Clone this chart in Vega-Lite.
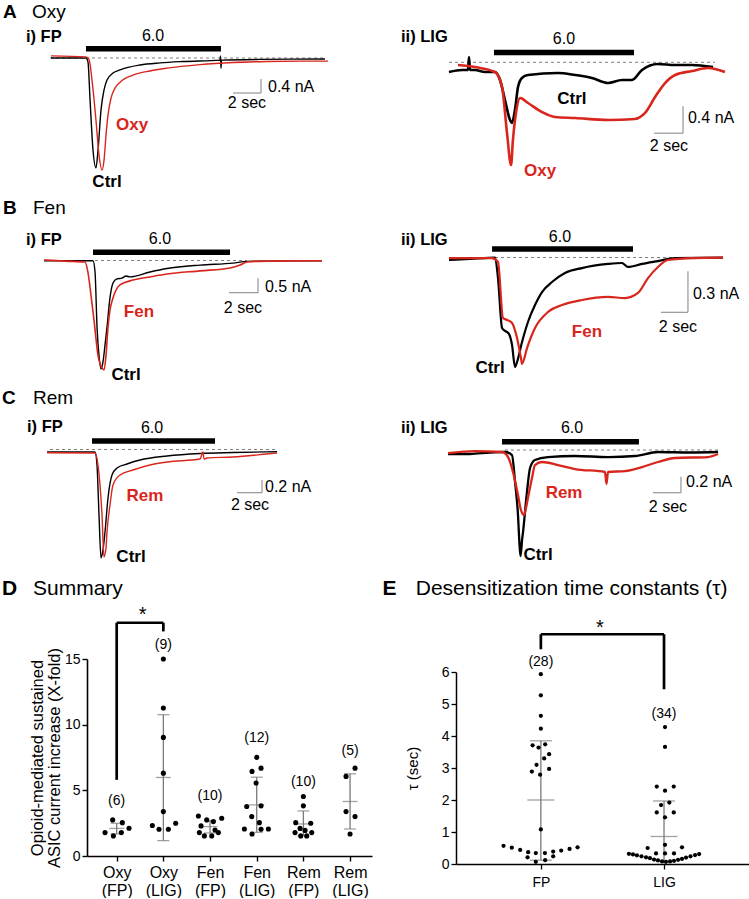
{
"$schema":"https://vega.github.io/schema/vega-lite/v6.json",
"padding":0,
"background":"white",
"columns":1,
"spacing":0,
"bounds":"full",
"config":{"view":{"stroke":null},"font":"Liberation Sans"},
"datasets":{
"Ai_an":[
{"kind":"letter","label":"A","t":-3.43,"I":1.314},
{"kind":"head","label":"Oxy","t":-1.36,"I":1.314},
{"kind":"sub","label":"i) FP","t":-1.79,"I":0.6},
{"kind":"stim","t":2.5,"t2":12.14,"I":0.266},
{"kind":"dose","label":"6.0","t":7.29,"I":0.629},
{"kind":"base","t":-0.07,"t2":19.57,"I":0},
{"kind":"sbar","t":13,"t2":15,"I":-1,"I2":-1},
{"kind":"sbar","t":15,"t2":15,"I":-1,"I2":-0.6},
{"kind":"sval","label":"0.4 nA","t":15.5,"I":-0.83},
{"kind":"stime","label":"2 sec","t":14,"I":-1.29},
{"kind":"tag","cond":"Drug","label":"Oxy","t":5.79,"I":-1.91},
{"kind":"tag","cond":"Ctrl","label":"Ctrl","t":4.0,"I":-3.54}],
"Ai_tr":[
{"cond":"Ctrl","t":0,"I":0},{"cond":"Ctrl","t":2.5,"I":0},{"cond":"Ctrl","t":2.64,"I":-0.11},{"cond":"Ctrl","t":2.79,"I":-1.2},{"cond":"Ctrl","t":3.0,"I":-2.63},{"cond":"Ctrl","t":3.21,"I":-3.14},{"cond":"Ctrl","t":3.36,"I":-2.63},{"cond":"Ctrl","t":3.57,"I":-1.49},{"cond":"Ctrl","t":3.79,"I":-0.91},{"cond":"Ctrl","t":4.0,"I":-0.63},{"cond":"Ctrl","t":4.43,"I":-0.43},{"cond":"Ctrl","t":4.93,"I":-0.34},{"cond":"Ctrl","t":6.36,"I":-0.2},{"cond":"Ctrl","t":7.79,"I":-0.14},{"cond":"Ctrl","t":9.43,"I":-0.1},{"cond":"Ctrl","t":12.07,"I":-0.06},{"cond":"Ctrl","t":12.11,"I":0.06},{"cond":"Ctrl","t":12.14,"I":-0.29},{"cond":"Ctrl","t":12.18,"I":-0.06},{"cond":"Ctrl","t":14.93,"I":-0.04},{"cond":"Ctrl","t":19.57,"I":-0.03},
{"cond":"Drug","t":0,"I":0.06},{"cond":"Drug","t":2.5,"I":0.03},{"cond":"Drug","t":2.71,"I":-0.03},{"cond":"Drug","t":2.93,"I":-0.63},{"cond":"Drug","t":3.21,"I":-1.77},{"cond":"Drug","t":3.43,"I":-2.77},{"cond":"Drug","t":3.64,"I":-3.2},{"cond":"Drug","t":3.79,"I":-2.91},{"cond":"Drug","t":3.93,"I":-2.2},{"cond":"Drug","t":4.07,"I":-1.63},{"cond":"Drug","t":4.29,"I":-1.14},{"cond":"Drug","t":4.57,"I":-0.86},{"cond":"Drug","t":4.93,"I":-0.69},{"cond":"Drug","t":5.86,"I":-0.49},{"cond":"Drug","t":7.07,"I":-0.37},{"cond":"Drug","t":8.29,"I":-0.29},{"cond":"Drug","t":10.64,"I":-0.19},{"cond":"Drug","t":13.0,"I":-0.13},{"cond":"Drug","t":15.43,"I":-0.1},{"cond":"Drug","t":17.79,"I":-0.09},{"cond":"Drug","t":19.79,"I":-0.09}],
"Aii_an":[
{"kind":"sub","label":"ii) LIG","t":-3.31,"I":0.375},
{"kind":"stim","t":3.1,"t2":12.76,"I":0.145},
{"kind":"dose","label":"6.0","t":7.93,"I":0.345},
{"kind":"base","t":0,"t2":18.34,"I":0},
{"kind":"sbar","t":14.14,"t2":16.14,"I":-1.05,"I2":-1.05},
{"kind":"sbar","t":16.14,"t2":16.14,"I":-1.05,"I2":-0.65},
{"kind":"sval","label":"0.4 nA","t":16.48,"I":-0.825},
{"kind":"stime","label":"2 sec","t":15.17,"I":-1.24},
{"kind":"tag","cond":"Ctrl","label":"Ctrl","t":8.48,"I":-0.544},
{"kind":"tag","cond":"Drug","label":"Oxy","t":6.28,"I":-1.61}],
"Aii_tr":[
{"cond":"Ctrl","t":0,"I":-0.144},{"cond":"Ctrl","t":0.9,"I":-0.114},{"cond":"Ctrl","t":1.31,"I":-0.114},{"cond":"Ctrl","t":1.38,"I":0.078},{"cond":"Ctrl","t":1.45,"I":-0.114},{"cond":"Ctrl","t":1.79,"I":-0.114},{"cond":"Ctrl","t":2.48,"I":-0.144},{"cond":"Ctrl","t":3.17,"I":-0.144},{"cond":"Ctrl","t":3.52,"I":-0.262},{"cond":"Ctrl","t":3.86,"I":-0.559},{"cond":"Ctrl","t":4.21,"I":-0.856},{"cond":"Ctrl","t":4.34,"I":-0.9},{"cond":"Ctrl","t":4.55,"I":-0.707},{"cond":"Ctrl","t":4.76,"I":-0.366},{"cond":"Ctrl","t":5.03,"I":-0.233},{"cond":"Ctrl","t":5.45,"I":-0.188},{"cond":"Ctrl","t":7.52,"I":-0.159},{"cond":"Ctrl","t":8.69,"I":-0.188},{"cond":"Ctrl","t":9.86,"I":-0.233},{"cond":"Ctrl","t":10.97,"I":-0.307},{"cond":"Ctrl","t":11.93,"I":-0.262},{"cond":"Ctrl","t":12.62,"I":-0.262},{"cond":"Ctrl","t":13.31,"I":-0.114},{"cond":"Ctrl","t":14.41,"I":-0.025},{"cond":"Ctrl","t":15.59,"I":-0.04},{"cond":"Ctrl","t":16.76,"I":-0.04},{"cond":"Ctrl","t":18.21,"I":-0.07},
{"cond":"Drug","t":0.62,"I":-0.04},{"cond":"Drug","t":1.79,"I":-0.07},{"cond":"Drug","t":3.17,"I":-0.144},{"cond":"Drug","t":3.66,"I":-0.366},{"cond":"Drug","t":4.0,"I":-1.047},{"cond":"Drug","t":4.28,"I":-1.521},{"cond":"Drug","t":4.41,"I":-1.151},{"cond":"Drug","t":4.62,"I":-0.753},{"cond":"Drug","t":4.9,"I":-0.529},{"cond":"Drug","t":5.45,"I":-0.603},{"cond":"Drug","t":6.41,"I":-0.736},{"cond":"Drug","t":7.31,"I":-0.81},{"cond":"Drug","t":8.69,"I":-0.825},{"cond":"Drug","t":10.97,"I":-0.855},{"cond":"Drug","t":12.83,"I":-0.84},{"cond":"Drug","t":13.52,"I":-0.751},{"cond":"Drug","t":14.21,"I":-0.514},{"cond":"Drug","t":14.9,"I":-0.307},{"cond":"Drug","t":15.59,"I":-0.188},{"cond":"Drug","t":16.76,"I":-0.129},{"cond":"Drug","t":17.86,"I":-0.084},{"cond":"Drug","t":19.03,"I":-0.144}],
"Bi_an":[
{"kind":"letter","label":"B","t":-2.83,"I":1.823},
{"kind":"head","label":"Fen","t":-0.76,"I":1.823},
{"kind":"sub","label":"i) FP","t":-1.24,"I":0.712},
{"kind":"stim","t":3.38,"t2":12.83,"I":0.285},
{"kind":"dose","label":"6.0","t":8.0,"I":0.747},
{"kind":"base","t":3.52,"t2":14.0,"I":0},
{"kind":"sbar","t":12.76,"t2":14.76,"I":-1.118,"I2":-1.118},
{"kind":"sbar","t":14.76,"t2":14.76,"I":-1.118,"I2":-0.618},
{"kind":"sval","label":"0.5 nA","t":15.24,"I":-0.91},
{"kind":"stime","label":"2 sec","t":13.72,"I":-1.65},
{"kind":"tag","cond":"Drug","label":"Fen","t":6.55,"I":-1.78},
{"kind":"tag","cond":"Ctrl","label":"Ctrl","t":5.66,"I":-3.98}],
"Bi_tr":[
{"cond":"Ctrl","t":0,"I":-0.01},{"cond":"Ctrl","t":3.38,"I":-0.01},{"cond":"Ctrl","t":3.52,"I":-0.4},{"cond":"Ctrl","t":3.66,"I":-2.34},{"cond":"Ctrl","t":3.79,"I":-3.28},{"cond":"Ctrl","t":3.93,"I":-3.77},{"cond":"Ctrl","t":4.07,"I":-3.52},{"cond":"Ctrl","t":4.21,"I":-2.93},{"cond":"Ctrl","t":4.34,"I":-2.34},{"cond":"Ctrl","t":4.55,"I":-1.3},{"cond":"Ctrl","t":4.76,"I":-0.78},{"cond":"Ctrl","t":5.03,"I":-0.64},{"cond":"Ctrl","t":5.38,"I":-0.61},{"cond":"Ctrl","t":5.66,"I":-0.54},{"cond":"Ctrl","t":5.93,"I":-0.57},{"cond":"Ctrl","t":7.31,"I":-0.4},{"cond":"Ctrl","t":8.48,"I":-0.28},{"cond":"Ctrl","t":10.76,"I":-0.16},{"cond":"Ctrl","t":13.03,"I":-0.09},{"cond":"Ctrl","t":14.0,"I":-0.03},{"cond":"Ctrl","t":19.17,"I":-0.01},
{"cond":"Drug","t":0,"I":0.02},{"cond":"Drug","t":1.45,"I":-0.02},{"cond":"Drug","t":2.83,"I":-0.05},{"cond":"Drug","t":3.03,"I":-0.4},{"cond":"Drug","t":3.24,"I":-1.2},{"cond":"Drug","t":3.45,"I":-2.07},{"cond":"Drug","t":3.72,"I":-3.28},{"cond":"Drug","t":4.0,"I":-3.73},{"cond":"Drug","t":4.14,"I":-3.8},{"cond":"Drug","t":4.28,"I":-3.28},{"cond":"Drug","t":4.41,"I":-2.34},{"cond":"Drug","t":4.55,"I":-1.72},{"cond":"Drug","t":4.76,"I":-1.3},{"cond":"Drug","t":5.24,"I":-0.85},{"cond":"Drug","t":6.14,"I":-0.68},{"cond":"Drug","t":7.31,"I":-0.57},{"cond":"Drug","t":8.48,"I":-0.47},{"cond":"Drug","t":10.76,"I":-0.36},{"cond":"Drug","t":12.83,"I":-0.26},{"cond":"Drug","t":13.52,"I":-0.16},{"cond":"Drug","t":14.0,"I":-0.05},{"cond":"Drug","t":15.38,"I":-0.02},{"cond":"Drug","t":19.17,"I":-0.01}],
"Bii_an":[
{"kind":"sub","label":"ii) LIG","t":-3.56,"I":0.128},
{"kind":"stim","t":3.19,"t2":13.63,"I":0.062},
{"kind":"dose","label":"6.0","t":8.22,"I":0.152},
{"kind":"base","t":3.41,"t2":20.3,"I":0},
{"kind":"sbar","t":15.7,"t2":17.7,"I":-0.4,"I2":-0.4},
{"kind":"sbar","t":17.7,"t2":17.7,"I":-0.4,"I2":-0.1},
{"kind":"sval","label":"0.3 nA","t":18.07,"I":-0.266},
{"kind":"stime","label":"2 sec","t":16.96,"I":-0.507},
{"kind":"tag","cond":"Drug","label":"Fen","t":10.22,"I":-0.542},
{"kind":"tag","cond":"Ctrl","label":"Ctrl","t":3.04,"I":-0.807}],
"Bii_tr":[
{"cond":"Ctrl","t":0,"I":-0.018},{"cond":"Ctrl","t":1.56,"I":-0.011},{"cond":"Ctrl","t":3.41,"I":-0.001},{"cond":"Ctrl","t":3.63,"I":-0.15},{"cond":"Ctrl","t":3.93,"I":-0.515},{"cond":"Ctrl","t":4.15,"I":-0.536},{"cond":"Ctrl","t":4.44,"I":-0.558},{"cond":"Ctrl","t":4.67,"I":-0.639},{"cond":"Ctrl","t":4.89,"I":-0.8},{"cond":"Ctrl","t":5.04,"I":-0.763},{"cond":"Ctrl","t":5.41,"I":-0.617},{"cond":"Ctrl","t":5.85,"I":-0.471},{"cond":"Ctrl","t":6.37,"I":-0.347},{"cond":"Ctrl","t":6.89,"I":-0.252},{"cond":"Ctrl","t":7.63,"I":-0.179},{"cond":"Ctrl","t":8.59,"I":-0.113},{"cond":"Ctrl","t":9.85,"I":-0.077},{"cond":"Ctrl","t":11.78,"I":-0.047},{"cond":"Ctrl","t":12.81,"I":-0.04},{"cond":"Ctrl","t":13.26,"I":-0.069},{"cond":"Ctrl","t":14.3,"I":-0.047},{"cond":"Ctrl","t":15.48,"I":-0.026},{"cond":"Ctrl","t":16.74,"I":-0.004},{"cond":"Ctrl","t":20.3,"I":-0.001},
{"cond":"Drug","t":0,"I":-0.004},{"cond":"Drug","t":3.19,"I":-0.004},{"cond":"Drug","t":3.63,"I":-0.033},{"cond":"Drug","t":4.0,"I":-0.442},{"cond":"Drug","t":4.3,"I":-0.456},{"cond":"Drug","t":4.67,"I":-0.478},{"cond":"Drug","t":5.04,"I":-0.588},{"cond":"Drug","t":5.33,"I":-0.734},{"cond":"Drug","t":5.41,"I":-0.777},{"cond":"Drug","t":5.78,"I":-0.661},{"cond":"Drug","t":6.37,"I":-0.515},{"cond":"Drug","t":7.33,"I":-0.398},{"cond":"Drug","t":8.37,"I":-0.347},{"cond":"Drug","t":9.85,"I":-0.31},{"cond":"Drug","t":11.78,"I":-0.288},{"cond":"Drug","t":13.04,"I":-0.296},{"cond":"Drug","t":14.0,"I":-0.259},{"cond":"Drug","t":14.74,"I":-0.15},{"cond":"Drug","t":15.48,"I":-0.069},{"cond":"Drug","t":16.22,"I":-0.018},{"cond":"Drug","t":18.0,"I":-0.004},{"cond":"Drug","t":20.3,"I":-0.001}],
"Ci_an":[
{"kind":"letter","label":"C","t":-3.6,"I":0.817},
{"kind":"head","label":"Rem","t":-1.12,"I":0.817},
{"kind":"sub","label":"i) FP","t":-1.6,"I":0.357},
{"kind":"stim","t":3.6,"t2":13.44,"I":0.135},
{"kind":"dose","label":"6.0","t":8.4,"I":0.341},
{"kind":"base","t":0.24,"t2":18.4,"I":0},
{"kind":"sbar","t":15.2,"t2":17.2,"I":-0.686,"I2":-0.686},
{"kind":"sbar","t":17.2,"t2":17.2,"I":-0.686,"I2":-0.486},
{"kind":"sval","label":"0.2 nA","t":17.44,"I":-0.59},
{"kind":"stime","label":"2 sec","t":16.24,"I":-0.881},
{"kind":"tag","cond":"Drug","label":"Rem","t":7.84,"I":-0.738},
{"kind":"tag","cond":"Ctrl","label":"Ctrl","t":6.72,"I":-1.706}],
"Ci_tr":[
{"cond":"Ctrl","t":0,"I":-0.04},{"cond":"Ctrl","t":3.84,"I":-0.04},{"cond":"Ctrl","t":4.0,"I":-0.246},{"cond":"Ctrl","t":4.16,"I":-1.04},{"cond":"Ctrl","t":4.32,"I":-1.722},{"cond":"Ctrl","t":4.48,"I":-1.595},{"cond":"Ctrl","t":4.64,"I":-1.31},{"cond":"Ctrl","t":4.88,"I":-0.77},{"cond":"Ctrl","t":5.2,"I":-0.405},{"cond":"Ctrl","t":5.6,"I":-0.294},{"cond":"Ctrl","t":6.4,"I":-0.23},{"cond":"Ctrl","t":7.44,"I":-0.167},{"cond":"Ctrl","t":9.6,"I":-0.103},{"cond":"Ctrl","t":12.24,"I":-0.063},{"cond":"Ctrl","t":14.88,"I":-0.048},{"cond":"Ctrl","t":18.4,"I":-0.035},
{"cond":"Drug","t":0,"I":-0.051},{"cond":"Drug","t":3.84,"I":-0.056},{"cond":"Drug","t":4.08,"I":-0.246},{"cond":"Drug","t":4.4,"I":-1.04},{"cond":"Drug","t":4.56,"I":-1.706},{"cond":"Drug","t":4.72,"I":-1.563},{"cond":"Drug","t":4.8,"I":-1.31},{"cond":"Drug","t":5.04,"I":-0.881},{"cond":"Drug","t":5.28,"I":-0.563},{"cond":"Drug","t":5.84,"I":-0.405},{"cond":"Drug","t":6.88,"I":-0.325},{"cond":"Drug","t":8.24,"I":-0.246},{"cond":"Drug","t":9.6,"I":-0.198},{"cond":"Drug","t":12.24,"I":-0.151},{"cond":"Drug","t":12.48,"I":-0.04},{"cond":"Drug","t":12.56,"I":-0.151},{"cond":"Drug","t":12.8,"I":-0.135},{"cond":"Drug","t":14.88,"I":-0.119},{"cond":"Drug","t":17.6,"I":-0.071},{"cond":"Drug","t":18.4,"I":-0.056}],
"Cii_an":[
{"kind":"sub","label":"ii) LIG","t":-3.36,"I":0.275},
{"kind":"stim","t":3.86,"t2":13.64,"I":0.104},
{"kind":"dose","label":"6.0","t":8.86,"I":0.275},
{"kind":"base","t":4.07,"t2":19.29,"I":0},
{"kind":"sbar","t":14.64,"t2":16.64,"I":-0.534,"I2":-0.534},
{"kind":"sbar","t":16.64,"t2":16.64,"I":-0.534,"I2":-0.334},
{"kind":"sval","label":"0.2 nA","t":17.0,"I":-0.404},
{"kind":"stime","label":"2 sec","t":15.71,"I":-0.709},
{"kind":"tag","cond":"Drug","label":"Rem","t":8.29,"I":-0.541},
{"kind":"tag","cond":"Ctrl","label":"Ctrl","t":6.43,"I":-1.3125}],
"Cii_tr":[
{"cond":"Ctrl","t":0,"I":-0.05},{"cond":"Ctrl","t":1.57,"I":-0.05},{"cond":"Ctrl","t":3.0,"I":-0.031},{"cond":"Ctrl","t":4.07,"I":-0.025},{"cond":"Ctrl","t":4.57,"I":-0.063},{"cond":"Ctrl","t":4.79,"I":-0.4},{"cond":"Ctrl","t":5.0,"I":-0.813},{"cond":"Ctrl","t":5.11,"I":-1.188},{"cond":"Ctrl","t":5.18,"I":-1.325},{"cond":"Ctrl","t":5.29,"I":-1.125},{"cond":"Ctrl","t":5.36,"I":-1.025},{"cond":"Ctrl","t":5.64,"I":-0.525},{"cond":"Ctrl","t":5.86,"I":-0.225},{"cond":"Ctrl","t":6.21,"I":-0.125},{"cond":"Ctrl","t":7.14,"I":-0.088},{"cond":"Ctrl","t":9.07,"I":-0.075},{"cond":"Ctrl","t":11.43,"I":-0.088},{"cond":"Ctrl","t":13.36,"I":-0.075},{"cond":"Ctrl","t":15.0,"I":-0.025},{"cond":"Ctrl","t":17.29,"I":-0.031},{"cond":"Ctrl","t":19.29,"I":-0.025},
{"cond":"Drug","t":0,"I":-0.038},{"cond":"Drug","t":1.93,"I":-0.013},{"cond":"Drug","t":3.86,"I":-0.025},{"cond":"Drug","t":4.29,"I":-0.088},{"cond":"Drug","t":4.64,"I":-0.275},{"cond":"Drug","t":5.0,"I":-0.563},{"cond":"Drug","t":5.21,"I":-0.75},{"cond":"Drug","t":5.43,"I":-0.813},{"cond":"Drug","t":5.57,"I":-0.725},{"cond":"Drug","t":5.71,"I":-0.6},{"cond":"Drug","t":6.0,"I":-0.35},{"cond":"Drug","t":6.21,"I":-0.188},{"cond":"Drug","t":6.71,"I":-0.15},{"cond":"Drug","t":7.86,"I":-0.188},{"cond":"Drug","t":9.07,"I":-0.238},{"cond":"Drug","t":11.21,"I":-0.275},{"cond":"Drug","t":11.32,"I":-0.425},{"cond":"Drug","t":11.43,"I":-0.275},{"cond":"Drug","t":12.64,"I":-0.263},{"cond":"Drug","t":13.86,"I":-0.213},{"cond":"Drug","t":15.0,"I":-0.15},{"cond":"Drug","t":16.21,"I":-0.1},{"cond":"Drug","t":18.57,"I":-0.088},{"cond":"Drug","t":19.29,"I":-0.05}],
"D":[
{"kind":"letter","label":"D","pos":-1.457,"v":20.33},
{"kind":"head","label":"Summary","pos":-0.793,"v":20.33},
{"kind":"br","pos":1,"pos2":1,"v":5.8,"v2":17.76},
{"kind":"br","pos":1,"pos2":2,"v":17.76,"v2":17.76},
{"kind":"br","pos":2,"pos2":2,"v":17.76,"v2":17.1},
{"kind":"star","label":"*","pos":1.557,"v":17.9},
{"kind":"n","label":"(6)","pos":1,"v":4.15},
{"kind":"n","label":"(9)","pos":2,"v":16.1},
{"kind":"n","label":"(10)","pos":3,"v":4.58},
{"kind":"n","label":"(12)","pos":4,"v":8.95},
{"kind":"n","label":"(10)","pos":5,"v":5.67},
{"kind":"n","label":"(5)","pos":6,"v":7.96},
{"kind":"sd","pos":1,"v":1.68,"v2":2.49},{"kind":"mean","pos":1,"v":2.1},{"kind":"cap","pos":1,"v":1.68},{"kind":"cap","pos":1,"v":2.49},
{"kind":"sd","pos":2,"v":1.17,"v2":10.76},{"kind":"mean","pos":2,"v":5.98},{"kind":"cap","pos":2,"v":1.17},{"kind":"cap","pos":2,"v":10.76},
{"kind":"sd","pos":3,"v":1.75,"v2":2.7},{"kind":"mean","pos":3,"v":2.24},{"kind":"cap","pos":3,"v":1.75},{"kind":"cap","pos":3,"v":2.7},
{"kind":"sd","pos":4,"v":1.8,"v2":6.0},{"kind":"mean","pos":4,"v":3.89},{"kind":"cap","pos":4,"v":1.8},{"kind":"cap","pos":4,"v":6.0},
{"kind":"sd","pos":5,"v":1.55,"v2":3.43},{"kind":"mean","pos":5,"v":2.44},{"kind":"cap","pos":5,"v":1.55},{"kind":"cap","pos":5,"v":3.43},
{"kind":"sd","pos":6,"v":2.06,"v2":6.26},{"kind":"mean","pos":6,"v":4.15},{"kind":"cap","pos":6,"v":2.06},{"kind":"cap","pos":6,"v":6.26},
{"kind":"pt","pos":0.914,"v":2.75},{"kind":"pt","pos":1.121,"v":2.54},{"kind":"pt","pos":0.75,"v":1.78},{"kind":"pt","pos":0.929,"v":1.53},{"kind":"pt","pos":1.1,"v":1.78},{"kind":"pt","pos":1.264,"v":2.11},
{"kind":"pt","pos":2,"v":15.0},{"kind":"pt","pos":2,"v":11.27},{"kind":"pt","pos":2,"v":9.03},{"kind":"pt","pos":2,"v":6.31},{"kind":"pt","pos":2,"v":3.38},{"kind":"pt","pos":1.764,"v":2.32},{"kind":"pt","pos":1.907,"v":2.04},{"kind":"pt","pos":2.107,"v":2.04},{"kind":"pt","pos":2.264,"v":2.49},
{"kind":"pt","pos":2.75,"v":3.05},{"kind":"pt","pos":3.25,"v":2.88},{"kind":"pt","pos":2.929,"v":2.75},{"kind":"pt","pos":3.071,"v":2.62},{"kind":"pt","pos":2.807,"v":2.29},{"kind":"pt","pos":3.107,"v":1.98},{"kind":"pt","pos":2.771,"v":1.78},{"kind":"pt","pos":3.179,"v":1.78},{"kind":"pt","pos":2.879,"v":1.53},{"kind":"pt","pos":3.036,"v":1.53},
{"kind":"pt","pos":4.0,"v":7.51},{"kind":"pt","pos":3.9,"v":6.44},{"kind":"pt","pos":4.093,"v":6.69},{"kind":"pt","pos":3.986,"v":5.55},{"kind":"pt","pos":3.786,"v":3.77},{"kind":"pt","pos":4.093,"v":3.82},{"kind":"pt","pos":3.893,"v":3.0},{"kind":"pt","pos":4.057,"v":2.54},{"kind":"pt","pos":3.736,"v":2.06},{"kind":"pt","pos":3.9,"v":1.68},{"kind":"pt","pos":4.093,"v":2.04},{"kind":"pt","pos":4.25,"v":2.06},
{"kind":"pt","pos":5.0,"v":4.53},{"kind":"pt","pos":5.0,"v":3.82},{"kind":"pt","pos":4.836,"v":2.54},{"kind":"pt","pos":5.157,"v":2.49},{"kind":"pt","pos":4.821,"v":1.78},{"kind":"pt","pos":4.943,"v":1.53},{"kind":"pt","pos":5.071,"v":1.53},{"kind":"pt","pos":5.179,"v":1.78},{"kind":"pt","pos":4.929,"v":2.1},{"kind":"pt","pos":5.036,"v":1.95},
{"kind":"pt","pos":5.914,"v":6.06},{"kind":"pt","pos":6.107,"v":6.69},{"kind":"pt","pos":5.914,"v":3.38},{"kind":"pt","pos":6.107,"v":3.0},{"kind":"pt","pos":6.0,"v":1.68}],
"E":[
{"kind":"letter","label":"E","pos":-0.285,"v":8.59},
{"kind":"head","label":"Desensitization time constants (τ)","pos":-0.016,"v":8.59},
{"kind":"br","pos":1,"pos2":1,"v":6.71,"v2":7.18},
{"kind":"br","pos":1,"pos2":2,"v":7.18,"v2":7.18},
{"kind":"br","pos":2,"pos2":2,"v":7.18,"v2":5.46},
{"kind":"star","label":"*","pos":1.48,"v":7.2},
{"kind":"n","label":"(28)","pos":1,"v":6.32},
{"kind":"n","label":"(34)","pos":2,"v":4.68},
{"kind":"sd","pos":1,"v":0.12,"v2":3.85},{"kind":"mean","pos":1,"v":2.0},{"kind":"cap","pos":1,"v":0.12},{"kind":"cap","pos":1,"v":3.85},
{"kind":"sd","pos":2,"v":0.02,"v2":1.97},{"kind":"mean","pos":2,"v":0.86},{"kind":"cap","pos":2,"v":1.97},
{"kind":"pt","pos":1.0,"v":5.93},{"kind":"pt","pos":1.0,"v":5.27},{"kind":"pt","pos":1.0,"v":4.63},{"kind":"pt","pos":1.0,"v":4.23},{"kind":"pt","pos":0.933,"v":3.71},{"kind":"pt","pos":0.981,"v":3.64},{"kind":"pt","pos":1.035,"v":3.74},{"kind":"pt","pos":1.067,"v":3.43},{"kind":"pt","pos":1.027,"v":3.3},{"kind":"pt","pos":0.965,"v":3.1},{"kind":"pt","pos":0.927,"v":2.89},{"kind":"pt","pos":0.994,"v":2.79},{"kind":"pt","pos":1.067,"v":2.97},{"kind":"pt","pos":1.0,"v":1.08},
{"kind":"pt","pos":0.697,"v":0.57},{"kind":"pt","pos":0.764,"v":0.51},{"kind":"pt","pos":0.832,"v":0.44},{"kind":"pt","pos":0.897,"v":0.37},{"kind":"pt","pos":0.959,"v":0.34},{"kind":"pt","pos":1.033,"v":0.34},{"kind":"pt","pos":1.1,"v":0.39},{"kind":"pt","pos":1.165,"v":0.42},{"kind":"pt","pos":1.233,"v":0.47},{"kind":"pt","pos":1.298,"v":0.52},{"kind":"pt","pos":0.892,"v":0.21},{"kind":"pt","pos":0.959,"v":0.07},{"kind":"pt","pos":1.035,"v":0.12},{"kind":"pt","pos":1.1,"v":0.24},
{"kind":"pt","pos":2.008,"v":4.28},{"kind":"pt","pos":2.008,"v":3.66},{"kind":"pt","pos":1.941,"v":2.42},{"kind":"pt","pos":2.079,"v":2.42},{"kind":"pt","pos":2.008,"v":2.29},{"kind":"pt","pos":2.043,"v":1.92},{"kind":"pt","pos":1.976,"v":1.84},{"kind":"pt","pos":1.941,"v":1.61},{"kind":"pt","pos":2.079,"v":1.61},{"kind":"pt","pos":2.008,"v":1.46},{"kind":"pt","pos":2.008,"v":0.6},{"kind":"pt","pos":1.867,"v":0.5},{"kind":"pt","pos":2.146,"v":0.52},{"kind":"pt","pos":1.935,"v":0.33},{"kind":"pt","pos":2.008,"v":0.33},{"kind":"pt","pos":2.081,"v":0.33},
{"kind":"pt","pos":1.715,"v":0.32},{"kind":"pt","pos":1.748,"v":0.3},{"kind":"pt","pos":1.78,"v":0.27},{"kind":"pt","pos":1.817,"v":0.24},{"kind":"pt","pos":1.854,"v":0.21},{"kind":"pt","pos":1.886,"v":0.18},{"kind":"pt","pos":1.919,"v":0.14},{"kind":"pt","pos":1.951,"v":0.11},{"kind":"pt","pos":1.984,"v":0.08},{"kind":"pt","pos":2.016,"v":0.07},{"kind":"pt","pos":2.049,"v":0.08},{"kind":"pt","pos":2.081,"v":0.1},{"kind":"pt","pos":2.114,"v":0.13},{"kind":"pt","pos":2.146,"v":0.16},{"kind":"pt","pos":2.179,"v":0.2},{"kind":"pt","pos":2.215,"v":0.24},{"kind":"pt","pos":2.252,"v":0.28},{"kind":"pt","pos":2.285,"v":0.31}]
},
"concat":[
{"concat":[
{"width":375,"height":190,"data":{"name":"Ai_an"},
"encoding":{"x":{"field":"t","type":"quantitative","scale":{"domain":[-3.643,23.143],"nice":false,"zero":false},"axis":null},"y":{"field":"I","type":"quantitative","scale":{"domain":[-3.771,1.657],"nice":false,"zero":false},"axis":null}},
"layer":[
{"transform":[{"filter":"datum.kind==='base'"}],"mark":{"type":"rule","color":"#7f7f7f","strokeWidth":1,"strokeDash":[3,3]},"encoding":{"x2":{"field":"t2"}}},
{"transform":[{"filter":"datum.kind==='stim'"}],"mark":{"type":"rule","color":"#000","strokeWidth":5.5},"encoding":{"x2":{"field":"t2"}}},
{"transform":[{"filter":"datum.kind==='sbar'"}],"mark":{"type":"rule","color":"#8c8c8c","strokeWidth":1.1},"encoding":{"x2":{"field":"t2"},"y2":{"field":"I2"}}},
{"data":{"name":"Ai_tr"},"transform":[{"filter":"datum.cond==='Ctrl'"}],"mark":{"type":"line","color":"#000","strokeWidth":1.4,"interpolate":"monotone"}},
{"data":{"name":"Ai_tr"},"transform":[{"filter":"datum.cond==='Drug'"}],"mark":{"type":"line","color":"#d8261d","strokeWidth":1.4,"interpolate":"monotone"}},
{"transform":[{"filter":"datum.kind==='letter'"}],"mark":{"type":"text","fontSize":19,"fontWeight":"bold","align":"left","baseline":"middle","color":"#000"},"encoding":{"text":{"field":"label"}}},
{"transform":[{"filter":"datum.kind==='head'"}],"mark":{"type":"text","fontSize":19,"align":"left","baseline":"middle","color":"#000"},"encoding":{"text":{"field":"label"}}},
{"transform":[{"filter":"datum.kind==='sub'"}],"mark":{"type":"text","fontSize":16.5,"fontWeight":"bold","align":"left","baseline":"middle","color":"#000"},"encoding":{"text":{"field":"label"}}},
{"transform":[{"filter":"datum.kind==='dose' || datum.kind==='stime'"}],"mark":{"type":"text","fontSize":16,"align":"center","baseline":"middle","color":"#000"},"encoding":{"text":{"field":"label"}}},
{"transform":[{"filter":"datum.kind==='sval'"}],"mark":{"type":"text","fontSize":16,"align":"left","baseline":"middle","color":"#000"},"encoding":{"text":{"field":"label"}}},
{"transform":[{"filter":"datum.kind==='tag'"}],"mark":{"type":"text","fontSize":17,"fontWeight":"bold","align":"center","baseline":"middle"},"encoding":{"text":{"field":"label"},"color":{"field":"cond","type":"nominal","scale":{"domain":["Ctrl","Drug"],"range":["#000000","#d8261d"]},"legend":null}}}
]},
{"width":374,"height":190,"data":{"name":"Aii_an"},
"encoding":{"x":{"field":"t","type":"quantitative","scale":{"domain":[-5.103,20.69],"nice":false,"zero":false},"axis":null},"y":{"field":"I","type":"quantitative","scale":{"domain":[-1.892,0.923],"nice":false,"zero":false},"axis":null}},
"layer":[
{"transform":[{"filter":"datum.kind==='base'"}],"mark":{"type":"rule","color":"#7f7f7f","strokeWidth":1,"strokeDash":[3,3]},"encoding":{"x2":{"field":"t2"}}},
{"transform":[{"filter":"datum.kind==='stim'"}],"mark":{"type":"rule","color":"#000","strokeWidth":5.5},"encoding":{"x2":{"field":"t2"}}},
{"transform":[{"filter":"datum.kind==='sbar'"}],"mark":{"type":"rule","color":"#8c8c8c","strokeWidth":1.1},"encoding":{"x2":{"field":"t2"},"y2":{"field":"I2"}}},
{"data":{"name":"Aii_tr"},"transform":[{"filter":"datum.cond==='Ctrl'"}],"mark":{"type":"line","color":"#000","strokeWidth":2.6,"interpolate":"monotone"}},
{"data":{"name":"Aii_tr"},"transform":[{"filter":"datum.cond==='Drug'"}],"mark":{"type":"line","color":"#d8261d","strokeWidth":2.6,"interpolate":"monotone"}},
{"transform":[{"filter":"datum.kind==='sub'"}],"mark":{"type":"text","fontSize":16.5,"fontWeight":"bold","align":"left","baseline":"middle","color":"#000"},"encoding":{"text":{"field":"label"}}},
{"transform":[{"filter":"datum.kind==='dose' || datum.kind==='stime'"}],"mark":{"type":"text","fontSize":16,"align":"center","baseline":"middle","color":"#000"},"encoding":{"text":{"field":"label"}}},
{"transform":[{"filter":"datum.kind==='sval'"}],"mark":{"type":"text","fontSize":16,"align":"left","baseline":"middle","color":"#000"},"encoding":{"text":{"field":"label"}}},
{"transform":[{"filter":"datum.kind==='tag'"}],"mark":{"type":"text","fontSize":17,"fontWeight":"bold","align":"center","baseline":"middle"},"encoding":{"text":{"field":"label"},"color":{"field":"cond","type":"nominal","scale":{"domain":["Ctrl","Drug"],"range":["#000000","#d8261d"]},"legend":null}}}
]}
],"columns":2,"spacing":0,"bounds":"full"},
{"concat":[
{"width":375,"height":195,"data":{"name":"Bi_an"},
"encoding":{"x":{"field":"t","type":"quantitative","scale":{"domain":[-3.034,22.828],"nice":false,"zero":false},"axis":null},"y":{"field":"I","type":"quantitative","scale":{"domain":[-4.323,2.448],"nice":false,"zero":false},"axis":null}},
"layer":[
{"transform":[{"filter":"datum.kind==='base'"}],"mark":{"type":"rule","color":"#7f7f7f","strokeWidth":1,"strokeDash":[3,3]},"encoding":{"x2":{"field":"t2"}}},
{"transform":[{"filter":"datum.kind==='stim'"}],"mark":{"type":"rule","color":"#000","strokeWidth":5.5},"encoding":{"x2":{"field":"t2"}}},
{"transform":[{"filter":"datum.kind==='sbar'"}],"mark":{"type":"rule","color":"#8c8c8c","strokeWidth":1.1},"encoding":{"x2":{"field":"t2"},"y2":{"field":"I2"}}},
{"data":{"name":"Bi_tr"},"transform":[{"filter":"datum.cond==='Ctrl'"}],"mark":{"type":"line","color":"#000","strokeWidth":1.4,"interpolate":"monotone"}},
{"data":{"name":"Bi_tr"},"transform":[{"filter":"datum.cond==='Drug'"}],"mark":{"type":"line","color":"#d8261d","strokeWidth":1.6,"interpolate":"monotone"}},
{"transform":[{"filter":"datum.kind==='letter'"}],"mark":{"type":"text","fontSize":19,"fontWeight":"bold","align":"left","baseline":"middle","color":"#000"},"encoding":{"text":{"field":"label"}}},
{"transform":[{"filter":"datum.kind==='head'"}],"mark":{"type":"text","fontSize":19,"align":"left","baseline":"middle","color":"#000"},"encoding":{"text":{"field":"label"}}},
{"transform":[{"filter":"datum.kind==='sub'"}],"mark":{"type":"text","fontSize":16.5,"fontWeight":"bold","align":"left","baseline":"middle","color":"#000"},"encoding":{"text":{"field":"label"}}},
{"transform":[{"filter":"datum.kind==='dose' || datum.kind==='stime'"}],"mark":{"type":"text","fontSize":16,"align":"center","baseline":"middle","color":"#000"},"encoding":{"text":{"field":"label"}}},
{"transform":[{"filter":"datum.kind==='sval'"}],"mark":{"type":"text","fontSize":16,"align":"left","baseline":"middle","color":"#000"},"encoding":{"text":{"field":"label"}}},
{"transform":[{"filter":"datum.kind==='tag'"}],"mark":{"type":"text","fontSize":17,"fontWeight":"bold","align":"center","baseline":"middle"},"encoding":{"text":{"field":"label"},"color":{"field":"cond","type":"nominal","scale":{"domain":["Ctrl","Drug"],"range":["#000000","#d8261d"]},"legend":null}}}
]},
{"width":374,"height":195,"data":{"name":"Bii_an"},
"encoding":{"x":{"field":"t","type":"quantitative","scale":{"domain":[-5.481,22.222],"nice":false,"zero":false},"axis":null},"y":{"field":"I","type":"quantitative","scale":{"domain":[-0.931,0.493],"nice":false,"zero":false},"axis":null}},
"layer":[
{"transform":[{"filter":"datum.kind==='base'"}],"mark":{"type":"rule","color":"#7f7f7f","strokeWidth":1,"strokeDash":[3,3]},"encoding":{"x2":{"field":"t2"}}},
{"transform":[{"filter":"datum.kind==='stim'"}],"mark":{"type":"rule","color":"#000","strokeWidth":5.5},"encoding":{"x2":{"field":"t2"}}},
{"transform":[{"filter":"datum.kind==='sbar'"}],"mark":{"type":"rule","color":"#8c8c8c","strokeWidth":1.1},"encoding":{"x2":{"field":"t2"},"y2":{"field":"I2"}}},
{"data":{"name":"Bii_tr"},"transform":[{"filter":"datum.cond==='Ctrl'"}],"mark":{"type":"line","color":"#000","strokeWidth":2.2,"interpolate":"monotone"}},
{"data":{"name":"Bii_tr"},"transform":[{"filter":"datum.cond==='Drug'"}],"mark":{"type":"line","color":"#d8261d","strokeWidth":2.2,"interpolate":"monotone"}},
{"transform":[{"filter":"datum.kind==='sub'"}],"mark":{"type":"text","fontSize":16.5,"fontWeight":"bold","align":"left","baseline":"middle","color":"#000"},"encoding":{"text":{"field":"label"}}},
{"transform":[{"filter":"datum.kind==='dose' || datum.kind==='stime'"}],"mark":{"type":"text","fontSize":16,"align":"center","baseline":"middle","color":"#000"},"encoding":{"text":{"field":"label"}}},
{"transform":[{"filter":"datum.kind==='sval'"}],"mark":{"type":"text","fontSize":16,"align":"left","baseline":"middle","color":"#000"},"encoding":{"text":{"field":"label"}}},
{"transform":[{"filter":"datum.kind==='tag'"}],"mark":{"type":"text","fontSize":17,"fontWeight":"bold","align":"center","baseline":"middle"},"encoding":{"text":{"field":"label"},"color":{"field":"cond","type":"nominal","scale":{"domain":["Ctrl","Drug"],"range":["#000000","#d8261d"]},"legend":null}}}
]}
],"columns":2,"spacing":0,"bounds":"full"},
{"concat":[
{"width":375,"height":192,"data":{"name":"Ci_an"},
"encoding":{"x":{"field":"t","type":"quantitative","scale":{"domain":[-3.76,26.24],"nice":false,"zero":false},"axis":null},"y":{"field":"I","type":"quantitative","scale":{"domain":[-2.024,1.024],"nice":false,"zero":false},"axis":null}},
"layer":[
{"transform":[{"filter":"datum.kind==='base'"}],"mark":{"type":"rule","color":"#7f7f7f","strokeWidth":1,"strokeDash":[3,3]},"encoding":{"x2":{"field":"t2"}}},
{"transform":[{"filter":"datum.kind==='stim'"}],"mark":{"type":"rule","color":"#000","strokeWidth":5.5},"encoding":{"x2":{"field":"t2"}}},
{"transform":[{"filter":"datum.kind==='sbar'"}],"mark":{"type":"rule","color":"#8c8c8c","strokeWidth":1.1},"encoding":{"x2":{"field":"t2"},"y2":{"field":"I2"}}},
{"data":{"name":"Ci_tr"},"transform":[{"filter":"datum.cond==='Ctrl'"}],"mark":{"type":"line","color":"#000","strokeWidth":1.4,"interpolate":"monotone"}},
{"data":{"name":"Ci_tr"},"transform":[{"filter":"datum.cond==='Drug'"}],"mark":{"type":"line","color":"#d8261d","strokeWidth":1.4,"interpolate":"monotone"}},
{"transform":[{"filter":"datum.kind==='letter'"}],"mark":{"type":"text","fontSize":19,"fontWeight":"bold","align":"left","baseline":"middle","color":"#000"},"encoding":{"text":{"field":"label"}}},
{"transform":[{"filter":"datum.kind==='head'"}],"mark":{"type":"text","fontSize":19,"align":"left","baseline":"middle","color":"#000"},"encoding":{"text":{"field":"label"}}},
{"transform":[{"filter":"datum.kind==='sub'"}],"mark":{"type":"text","fontSize":16.5,"fontWeight":"bold","align":"left","baseline":"middle","color":"#000"},"encoding":{"text":{"field":"label"}}},
{"transform":[{"filter":"datum.kind==='dose' || datum.kind==='stime'"}],"mark":{"type":"text","fontSize":16,"align":"center","baseline":"middle","color":"#000"},"encoding":{"text":{"field":"label"}}},
{"transform":[{"filter":"datum.kind==='sval'"}],"mark":{"type":"text","fontSize":16,"align":"left","baseline":"middle","color":"#000"},"encoding":{"text":{"field":"label"}}},
{"transform":[{"filter":"datum.kind==='tag'"}],"mark":{"type":"text","fontSize":17,"fontWeight":"bold","align":"center","baseline":"middle"},"encoding":{"text":{"field":"label"},"color":{"field":"cond","type":"nominal","scale":{"domain":["Ctrl","Drug"],"range":["#000000","#d8261d"]},"legend":null}}}
]},
{"width":374,"height":192,"data":{"name":"Cii_an"},
"encoding":{"x":{"field":"t","type":"quantitative","scale":{"domain":[-5.214,21.5],"nice":false,"zero":false},"axis":null},"y":{"field":"I","type":"quantitative","scale":{"domain":[-1.5875,0.8125],"nice":false,"zero":false},"axis":null}},
"layer":[
{"transform":[{"filter":"datum.kind==='base'"}],"mark":{"type":"rule","color":"#7f7f7f","strokeWidth":1,"strokeDash":[3,3]},"encoding":{"x2":{"field":"t2"}}},
{"transform":[{"filter":"datum.kind==='stim'"}],"mark":{"type":"rule","color":"#000","strokeWidth":5.5},"encoding":{"x2":{"field":"t2"}}},
{"transform":[{"filter":"datum.kind==='sbar'"}],"mark":{"type":"rule","color":"#8c8c8c","strokeWidth":1.1},"encoding":{"x2":{"field":"t2"},"y2":{"field":"I2"}}},
{"data":{"name":"Cii_tr"},"transform":[{"filter":"datum.cond==='Ctrl'"}],"mark":{"type":"line","color":"#000","strokeWidth":2.3,"interpolate":"monotone"}},
{"data":{"name":"Cii_tr"},"transform":[{"filter":"datum.cond==='Drug'"}],"mark":{"type":"line","color":"#d8261d","strokeWidth":2.3,"interpolate":"monotone"}},
{"transform":[{"filter":"datum.kind==='sub'"}],"mark":{"type":"text","fontSize":16.5,"fontWeight":"bold","align":"left","baseline":"middle","color":"#000"},"encoding":{"text":{"field":"label"}}},
{"transform":[{"filter":"datum.kind==='dose' || datum.kind==='stime'"}],"mark":{"type":"text","fontSize":16,"align":"center","baseline":"middle","color":"#000"},"encoding":{"text":{"field":"label"}}},
{"transform":[{"filter":"datum.kind==='sval'"}],"mark":{"type":"text","fontSize":16,"align":"left","baseline":"middle","color":"#000"},"encoding":{"text":{"field":"label"}}},
{"transform":[{"filter":"datum.kind==='tag'"}],"mark":{"type":"text","fontSize":17,"fontWeight":"bold","align":"center","baseline":"middle"},"encoding":{"text":{"field":"label"},"color":{"field":"cond","type":"nominal","scale":{"domain":["Ctrl","Drug"],"range":["#000000","#d8261d"]},"legend":null}}}
]}
],"columns":2,"spacing":0,"bounds":"full"},
{"concat":[
{"width":372,"height":197,"data":{"name":"D"},
"encoding":{
"x":{"field":"pos","type":"quantitative","scale":{"domain":[0.364,6.47],"range":[87,372],"nice":false,"zero":false},"axis":{"values":[1,2,3,4,5,6],"labelExpr":"[['Oxy','(FP)'],['Oxy','(LIG)'],['Fen','(FP)'],['Fen','(LIG)'],['Rem','(FP)'],['Rem','(LIG)']][datum.value-1]","title":null,"grid":false,"domainColor":"#000","domainWidth":1.6,"tickColor":"#000","tickWidth":1.4,"tickSize":5,"labelFontSize":16,"labelColor":"#000","labelPadding":3,"labelLineHeight":18,"labelFlush":false,"labelOverlap":false}},
"y":{"field":"v","type":"quantitative","scale":{"domain":[0,15],"nice":false,"zero":false},"axis":{"offset":-87,"values":[0,5,10,15],"title":["Opioid-mediated sustained","ASIC current increase (X-fold)"],"titleFontSize":16.5,"titleFontWeight":"normal","titleColor":"#000","titleLineHeight":17,"titlePadding":2,"grid":false,"domainColor":"#000","domainWidth":1.6,"tickColor":"#000","tickWidth":1.4,"tickSize":5,"labelFontSize":14,"labelColor":"#000","labelPadding":2}}},
"layer":[
{"transform":[{"filter":"datum.kind==='br'"}],"mark":{"type":"rule","color":"#000","strokeWidth":2.7},"encoding":{"x2":{"field":"pos2"},"y2":{"field":"v2"}}},
{"transform":[{"filter":"datum.kind==='sd'"}],"mark":{"type":"rule","color":"#7a7a7a","strokeWidth":1.3},"encoding":{"y2":{"field":"v2"}}},
{"transform":[{"filter":"datum.kind==='mean'"}],"mark":{"type":"tick","orient":"horizontal","size":15,"thickness":1.3,"color":"#7a7a7a"}},
{"transform":[{"filter":"datum.kind==='cap'"}],"mark":{"type":"tick","orient":"horizontal","size":12,"thickness":1.3,"color":"#7a7a7a"}},
{"transform":[{"filter":"datum.kind==='pt'"}],"mark":{"type":"circle","size":26,"color":"#000","opacity":1}},
{"transform":[{"filter":"datum.kind==='n'"}],"mark":{"type":"text","fontSize":14,"align":"center","baseline":"middle","color":"#000"},"encoding":{"text":{"field":"label"}}},
{"transform":[{"filter":"datum.kind==='star'"}],"mark":{"type":"text","fontSize":20,"align":"center","baseline":"alphabetic","color":"#000"},"encoding":{"text":{"field":"label"}}},
{"transform":[{"filter":"datum.kind==='letter'"}],"mark":{"type":"text","fontSize":21,"fontWeight":"bold","align":"left","baseline":"middle","color":"#000"},"encoding":{"text":{"field":"label"}}},
{"transform":[{"filter":"datum.kind==='head'"}],"mark":{"type":"text","fontSize":21,"align":"left","baseline":"middle","color":"#000"},"encoding":{"text":{"field":"label"}}}
]},
{"width":293,"height":205,"data":{"name":"E"},
"encoding":{
"x":{"field":"pos","type":"quantitative","scale":{"domain":[0.311,2.69],"nice":false,"zero":false},"axis":{"values":[1,2],"labelExpr":"datum.value==1?'FP':'LIG'","title":null,"grid":false,"domainColor":"#000","domainWidth":1.5,"tickColor":"#000","tickWidth":1.3,"tickSize":5,"labelFontSize":14,"labelColor":"#000","labelPadding":6,"labelFlush":false}},
"y":{"field":"v","type":"quantitative","scale":{"domain":[0,6],"range":[205,13],"nice":false,"zero":false},"axis":{"values":[0,1,2,3,4,5,6],"title":"τ (sec)","titleFontSize":15,"titleFontWeight":"normal","titleColor":"#000","titlePadding":21,"grid":false,"domainColor":"#000","domainWidth":1.5,"tickColor":"#000","tickWidth":1.3,"tickSize":5,"labelFontSize":14,"labelColor":"#000","labelPadding":2}}},
"layer":[
{"transform":[{"filter":"datum.kind==='br'"}],"mark":{"type":"rule","color":"#000","strokeWidth":2.7},"encoding":{"x2":{"field":"pos2"},"y2":{"field":"v2"}}},
{"transform":[{"filter":"datum.kind==='sd'"}],"mark":{"type":"rule","color":"#7a7a7a","strokeWidth":1.3},"encoding":{"y2":{"field":"v2"}}},
{"transform":[{"filter":"datum.kind==='mean'"}],"mark":{"type":"tick","orient":"horizontal","size":27,"thickness":1.3,"color":"#7a7a7a"}},
{"transform":[{"filter":"datum.kind==='cap'"}],"mark":{"type":"tick","orient":"horizontal","size":22,"thickness":1.3,"color":"#7a7a7a"}},
{"transform":[{"filter":"datum.kind==='pt'"}],"mark":{"type":"circle","size":18,"color":"#000","opacity":1}},
{"transform":[{"filter":"datum.kind==='n'"}],"mark":{"type":"text","fontSize":14,"align":"center","baseline":"middle","color":"#000"},"encoding":{"text":{"field":"label"}}},
{"transform":[{"filter":"datum.kind==='star'"}],"mark":{"type":"text","fontSize":20,"align":"center","baseline":"alphabetic","color":"#000"},"encoding":{"text":{"field":"label"}}},
{"transform":[{"filter":"datum.kind==='letter'"}],"mark":{"type":"text","fontSize":21,"fontWeight":"bold","align":"left","baseline":"middle","color":"#000"},"encoding":{"text":{"field":"label"}}},
{"transform":[{"filter":"datum.kind==='head'"}],"mark":{"type":"text","fontSize":21,"align":"left","baseline":"middle","color":"#000"},"encoding":{"text":{"field":"label"}}}
]}
],"columns":2,"spacing":10,"bounds":"full"}
]
}
